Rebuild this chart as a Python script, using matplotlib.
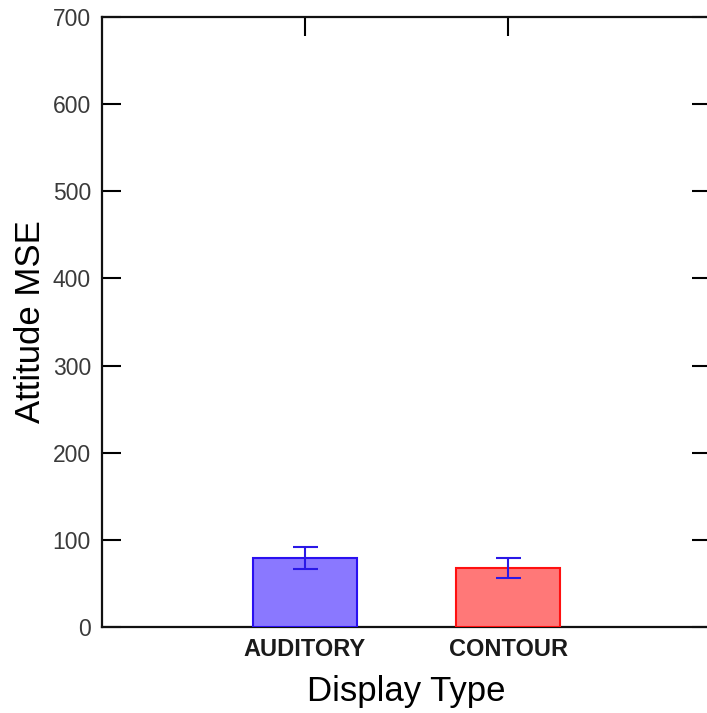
"""Bar chart of attitude MSE by display type, with error bars."""

import matplotlib.pyplot as plt

categories = ['AUDITORY', 'CONTOUR']
mse_means = [79, 68]
mse_errors = [12.5, 11.5]
y_ticks = [0, 100, 200, 300, 400, 500, 600, 700]

fill_colors = ['#8a78ff', '#ff7878']
edge_colors = ['#2a10f0', '#ff1010']
err_color = '#2a18e6'


def main():
    fig = plt.figure(figsize=(7.07, 7.13), dpi=100)
    ax = fig.add_axes([0.1443, 0.1206, 0.8614, 0.8556])

    x = list(range(len(categories)))
    ax.bar(x, mse_means, width=0.51, color=fill_colors,
           edgecolor=edge_colors, linewidth=1.5, zorder=3)
    ax.errorbar(x, mse_means, yerr=mse_errors, fmt='none',
                ecolor=err_color, elinewidth=1.5, capsize=9,
                capthick=1.5, zorder=4)

    ax.set_xlim(-1, 2)
    ax.set_ylim(0, 700)
    ax.set_yticks(y_ticks)
    ax.set_yticklabels([str(t) for t in y_ticks],
                       fontsize=16.5, family='Liberation Sans', color='#3a3a3a')
    ax.set_xticks(x)
    ax.set_xticklabels(categories, fontsize=17, fontweight='bold',
                       family='Liberation Sans', color='#1a1a1a')

    # inward ticks on the left, right and top; none along the bottom
    ax.tick_params(axis='y', which='both', direction='in', length=14,
                   width=1.5, left=True, right=True, pad=8)
    ax.tick_params(axis='x', which='both', direction='in', length=14,
                   width=1.5, bottom=False, top=True, pad=8)

    for side in ['left', 'right', 'top', 'bottom']:
        ax.spines[side].set_linewidth(1.6)
        ax.spines[side].set_color('#111111')

    ax.set_xlabel('Display Type', fontsize=25, family='Liberation Sans',
                  labelpad=10)
    ax.set_ylabel('Attitude MSE', fontsize=25, family='Liberation Sans',
                  labelpad=4)

    fig.savefig('out.png', dpi=100)
    plt.close(fig)


if __name__ == '__main__':
    main()
